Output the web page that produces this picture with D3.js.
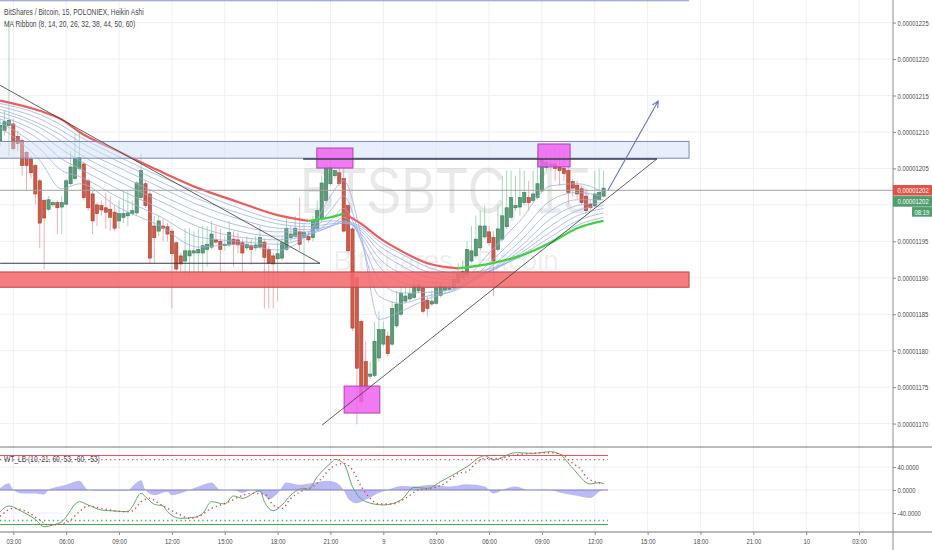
<!DOCTYPE html>
<html>
<head>
<meta charset="utf-8">
<title>BTSBTC 15 Heikin Ashi</title>
<style>
  body { margin: 0; background: #fff; }
  svg { display: block; font-family: "Liberation Sans", Arial, sans-serif; }
</style>
</head>
<body>
<svg id="chart" width="932" height="550"></svg>
<script src="https://d3js.org/d3.v7.min.js"></script>
<script>
// Heikin Ashi 15m bars from 02:15, prices in satoshi (1 sat = 0.00000001 BTC)
const haOpen = [1208.8,1210.2,1210.9,1211.1,1209.4,1208.8,1207.2,1206.3,1205.4,1203.3,
  1200.6,1199.4,1200.0,1200.3,1199.7,1200.1,1202.9,1203.6,1205.0,1205.6,
  1203.3,1201.5,1200.0,1199.9,1199.6,1199.4,1199.0,1197.8,1198.3,1198.5,
  1198.8,1198.9,1201.0,1202.9,1201.5,1197.1,1196.4,1197.1,1197.0,1196.4,
  1194.8,1193.0,1192.3,1193.0,1193.4,1193.4,1193.4,1193.9,1194.2,1195.2,
  1195.0,1194.4,1194.5,1195.3,1195.2,1194.8,1194.1,1194.4,1194.1,1194.2,
  1194.9,1193.9,1193.0,1192.6,1192.7,1193.9,1195.5,1195.7,1196.3,1195.5,
  1195.7,1195.5,1196.7,1198.1,1200.6,1202.9,1204.0,1204.4,1203.6,1199.9,
  1196.7,1190.0,1184.0,1178.5,1176.5,1176.6,1179.0,1180.9,1182.0,1180.9,
  1183.4,1185.0,1186.8,1187.1,1187.3,1188.2,1188.6,1186.9,1186.4,1186.5,
  1187.6,1188.3,1188.4,1188.6,1189.3,1190.0,1190.4,1192.3,1193.0,1194.1,
  1195.6,1196.3,1195.5,1193.9,1195.3,1197.0,1198.3,1199.6,1199.7,1200.3,
  1201.0,1200.6,1201.0,1201.9,1205.1,1205.4,1205.6,1205.2,1205.0,1204.7,
  1203.2,1202.7,1202.2,1201.2,1200.1,1199.9,1200.7,1201.2];
const haHigh = [1211.8,1212.9,1225.3,1211.8,1210.2,1209.1,1207.4,1206.7,1205.6,1203.6,
  1200.8,1201.2,1200.6,1200.6,1201.2,1203.6,1207.4,1209.8,1210.2,1205.9,
  1203.6,1201.9,1200.3,1200.6,1201.7,1201.2,1199.9,1200.6,1201.9,1201.9,
  1200.6,1203.3,1207.0,1203.3,1201.9,1198.5,1198.5,1198.1,1197.5,1196.7,
  1195.0,1193.4,1196.8,1196.8,1196.4,1196.7,1197.1,1197.1,1197.8,1197.1,
  1196.7,1195.7,1197.8,1196.4,1196.2,1195.3,1195.7,1195.3,1195.7,1197.1,
  1195.3,1194.4,1193.4,1195.0,1195.7,1198.5,1197.1,1198.5,1201.0,1197.5,
  1196.4,1198.5,1200.6,1204.0,1205.6,1206.1,1205.6,1205.2,1205.0,1200.1,
  1197.0,1190.2,1184.3,1181.3,1178.5,1184.0,1185.4,1184.0,1182.6,1186.8,
  1188.2,1188.9,1188.9,1188.9,1189.8,1189.5,1189.0,1187.5,1188.2,1189.5,
  1189.5,1189.3,1189.3,1190.9,1192.0,1192.3,1195.0,1197.1,1198.5,1199.2,
  1199.9,1197.1,1196.4,1199.9,1204.0,1204.7,1204.7,1204.0,1205.0,1204.7,
  1203.3,1204.7,1207.4,1206.7,1207.4,1207.4,1207.8,1207.8,1207.4,1205.4,
  1203.6,1203.3,1202.6,1201.9,1200.6,1204.7,1205.0,1204.7];
const haLow = [1208.1,1209.5,1206.7,1207.4,1207.4,1204.0,1201.9,1203.6,1200.1,1194.1,
  1191.2,1199.2,1199.7,1196.0,1196.0,1199.9,1202.6,1203.3,1204.7,1200.6,
  1199.2,1196.0,1197.1,1198.5,1196.7,1196.4,1196.4,1196.7,1197.5,1197.1,
  1198.5,1198.6,1200.6,1199.6,1191.9,1191.9,1195.7,1195.0,1195.0,1185.8,
  1190.9,1190.9,1190.3,1190.3,1190.6,1190.3,1190.8,1191.5,1193.9,1194.6,
  1190.8,1193.7,1194.2,1191.5,1193.4,1190.8,1193.7,1191.8,1193.7,1193.9,
  1185.8,1185.8,1185.8,1186.8,1192.3,1193.7,1195.0,1195.5,1193.7,1190.2,
  1194.8,1195.0,1196.4,1197.8,1200.3,1202.6,1203.6,1202.6,1196.2,1193.4,
  1182.7,1169.9,1172.4,1173.7,1176.1,1176.3,1178.5,1180.6,1179.2,1180.6,
  1183.1,1184.7,1186.5,1186.8,1187.1,1187.9,1185.1,1184.7,1186.1,1186.3,
  1187.3,1188.0,1188.2,1188.3,1189.0,1189.7,1190.1,1192.0,1192.6,1193.7,
  1195.3,1194.4,1187.5,1193.7,1195.0,1196.7,1198.1,1199.2,1198.5,1199.9,
  1199.2,1200.3,1200.7,1201.7,1204.7,1204.7,1203.3,1202.6,1203.3,1200.1,
  1201.2,1200.8,1200.0,1198.9,1199.2,1199.6,1200.6,1201.0];
const haClose = [1210.9,1211.4,1211.6,1207.7,1208.4,1205.4,1205.4,1204.4,1201.5,1197.5,
  1198.2,1200.7,1200.3,1199.6,1200.3,1203.3,1205.2,1206.3,1206.5,1201.0,
  1199.6,1197.8,1198.8,1199.3,1199.0,1198.3,1196.8,1198.8,1198.8,1198.9,
  1199.2,1203.0,1204.7,1199.9,1192.7,1195.5,1197.8,1196.8,1196.0,1193.3,
  1191.2,1191.9,1193.7,1193.7,1193.7,1193.9,1194.4,1194.6,1196.0,1194.9,
  1193.9,1194.6,1196.2,1194.6,1194.5,1193.4,1194.6,1193.9,1194.5,1195.5,
  1192.8,1192.0,1191.9,1193.3,1194.8,1196.8,1196.0,1196.8,1194.6,1196.2,
  1195.2,1197.9,1199.2,1203.0,1205.0,1205.1,1204.7,1202.9,1196.4,1193.7,
  1183.1,1177.6,1173.0,1174.8,1176.8,1181.3,1182.9,1182.9,1179.6,1185.8,
  1186.4,1187.9,1187.5,1187.8,1188.9,1189.0,1185.4,1185.8,1186.8,1188.6,
  1188.9,1188.7,1188.6,1189.8,1190.6,1190.9,1193.9,1193.7,1195.3,1197.1,
  1197.1,1194.8,1192.3,1196.7,1198.5,1199.6,1201.0,1199.9,1201.0,1201.7,
  1200.3,1201.5,1202.9,1206.3,1205.8,1205.6,1205.0,1204.7,1204.3,1201.7,
  1202.3,1201.5,1200.3,1199.2,1199.6,1201.5,1201.7,1202.3];
const lastPrice = 1202.0;

// MA Ribbon (8 .. 60), read at these bars
const ribbonBars = [0,9,14,18,27,36,45,54,63,70,75,78,82,86,91,97,104,111,118,125,131,137];
const ma60 = [1214.3,1212.9,1211.7,1210.0,1207.3,1204.7,1202.3,1200.4,1198.6,1197.8,1198.3,1198.8,1197.4,1195.5,1193.7,1192.0,1191.3,1191.9,1193.0,1194.8,1196.8,1197.8];
const ma50 = [1213.9,1212.4,1210.9,1209.4,1206.6,1204.0,1201.7,1199.6,1197.9,1197.4,1197.8,1197.7,1197.0,1195.0,1193.3,1191.5,1190.6,1191.2,1192.8,1195.0,1197.2,1198.3];
const ma44 = [1213.5,1211.8,1210.2,1208.7,1205.9,1203.3,1200.8,1198.9,1197.4,1197.0,1197.4,1197.5,1196.7,1194.4,1192.6,1190.8,1190.1,1190.9,1193.0,1195.6,1197.8,1198.9];
const ma38 = [1213.1,1211.1,1209.5,1207.8,1205.1,1202.5,1200.0,1198.1,1196.8,1196.6,1197.1,1197.5,1196.4,1193.7,1191.7,1190.1,1189.7,1190.8,1193.3,1196.3,1198.5,1199.5];
const ma32 = [1212.7,1210.6,1208.7,1207.0,1204.1,1201.5,1199.0,1197.2,1196.3,1196.3,1197.0,1197.8,1196.0,1192.7,1190.6,1189.4,1189.3,1190.8,1193.7,1197.1,1199.2,1199.9];
const ma26 = [1212.2,1209.8,1207.6,1206.1,1203.2,1200.6,1198.1,1196.4,1195.7,1196.0,1197.1,1198.3,1195.6,1191.6,1189.4,1188.7,1188.9,1190.9,1194.2,1198.1,1199.9,1200.3];
const ma20 = [1211.8,1208.9,1206.3,1205.0,1202.1,1199.6,1197.0,1195.6,1195.2,1195.9,1197.8,1199.5,1195.0,1189.8,1187.9,1188.0,1188.6,1191.3,1195.0,1199.2,1200.7,1200.7];
const ma14 = [1211.3,1207.7,1204.7,1203.9,1201.0,1198.5,1195.6,1195.0,1194.6,1195.9,1199.2,1201.2,1195.0,1187.5,1186.5,1187.5,1188.4,1192.0,1196.1,1200.6,1201.7,1201.1];
const ma8 = [1210.6,1206.1,1202.2,1202.9,1199.6,1197.2,1194.2,1194.6,1193.8,1196.1,1201.2,1203.3,1195.7,1184.3,1185.4,1187.1,1188.7,1193.4,1197.8,1202.6,1202.9,1201.7];

// WT_LB (10, 21, 60, 53, -60, -53)
const wt1Bars = [0,2,4,6,8,10,12,14,18,20,23,26,29,30,32,33,35,37,38,41,44,46,48,51,53,55,59,60,62,64,66,69,70,72,75,76,78,80,83,87,91,94,97,100,106,110,112,117,121,125,127,130,134,136,137];
const wt1 = [-37.7,-27.8,-33.6,-41.7,-51,-63.8,-60.9,-55,-20.3,-26,-34.8,-36.5,-37.7,-29,-5.8,-11.6,-24.9,-27.8,-37.7,-49.3,-47.5,-40.6,-20.3,-24.3,-10.4,-14.5,-1.2,-20.3,-36,-26,-8.7,2.9,1.2,23.2,46.4,53.3,46.4,5.8,-20.3,-26,-17.4,4.6,2.9,14.5,40.6,59.7,52.2,64.9,63.8,66.7,62.6,37.7,10.4,12.8,11];
const wt2Bars = [0,3,6,9,11,14,16,18,20,23,25,28,30,32,34,36,38,41,43,45,48,50,52,54,57,60,62,64,66,69,71,73,75,78,80,82,84,86,89,92,95,98,101,104,106,108,110,113,117,121,125,128,130,132,133,135,137];
const wt2 = [-46,-31.9,-37.7,-52.2,-60.9,-59.1,-52.2,-37.7,-27.8,-31.9,-34.8,-37.7,-36.5,-20.3,-14.5,-23.2,-31.9,-43.5,-49.3,-46.4,-31.9,-26.1,-20.3,-12.8,-5.8,-7,-26.1,-31.9,-14.5,0,5.8,20.3,37.7,46.4,34.8,5.8,-14.5,-24.3,-24.3,-14.5,0,2.9,11.6,29,31.9,46.4,55,55,60.9,63.8,64.9,59.1,46.4,34.8,23.2,14.5,11.6];
const histBars = [0,2,3,5,8,10,11,15,18,20,23,29,30,32,33,35,38,39,42,45,48,50,53,55,57,60,61,63,65,68,71,74,76,78,79,81,83,86,88,91,94,98,102,106,110,112,115,117,120,124,128,131,134,136,137];
const hist = [3,11.6,0,-6,-6,-8,0,9,16,0,-1,-1,6,17,0,-9,-3,-9,-3,6,13,0,0,-5,0,-9,-16,-6,13,9,12,16,14,0,-15,-23,-17,-5,0,7,6,9,6,10,6,-6,3,6,0,1,-6,-10,-14,-3,1];
const obLevels = [60, 53];
const osLevels = [-60, -53];

// axes (the 0.00001200 label sits under the last-price labels)
const priceTicks = [1170,1175,1180,1185,1190,1195,1200,1205,1210,1215,1220,1225];
const priceLabelTicks = [1170,1175,1180,1185,1190,1195,1205,1210,1215,1220,1225];
const wtTicks = [-40, 0, 40];
const timeTicks = [3,15,27,39,51,63,75,87,99,111,123,135,147,159,171,183,195];
const timeLabels = ["03:00","06:00","09:00","12:00","15:00","18:00","21:00","9","03:00","06:00","09:00","12:00","15:00","18:00","21:00","10","03:00"];

// drawings: [bar0, bar1, priceLow, priceHigh] and [bar0, price0, bar1, price1]
const zoneResist = [-5, 156.4, 1206.4, 1208.7];
const zoneSupport = [-5, 156.4, 1188.7, 1190.8];
const zoneTop = [-5, 156.4, 1228.0];
const boxes = [[71.9, 80.1, 1205.05, 1207.8], [78.1, 86.2, 1171.45, 1175.15], [122.1, 129.4, 1205.2, 1208.35]];
const trendLines = [[0, 1216.4, 72.6, 1192.0], [0, 1192.0, 72.6, 1192.0], [68.8, 1206.3, 149.1, 1206.3], [73.1, 1169.8, 149.1, 1206.3]];
const arrowLine = [138, 1202.0, 149.4, 1214.25];

const AXIS_X = 893, SX = 0.74;
const svg = d3.select("#chart");

const x = d3.scaleLinear().domain([0, 195]).range([0.1, 0.1 + 195 * 4.405]);
const y = d3.scaleLinear().domain([1170, 1225]).range([423.6, 22.6]);
const yi = d3.scaleLinear().domain([-40, 40]).range([513, 467]);

svg.append("rect").attr("width", 932).attr("height", 550).attr("fill", "#fff");

const defs = svg.append("defs");
defs.append("clipPath").attr("id", "clipMain").append("rect").attr("width", AXIS_X).attr("height", 446.5);
defs.append("clipPath").attr("id", "clipInd").append("rect").attr("y", 447.5).attr("width", AXIS_X).attr("height", 84);

// grid
const grid = svg.append("g").attr("stroke", "#eef0f4").attr("stroke-width", 1);
grid.selectAll("line.v").data(timeTicks).join("line")
  .attr("x1", d => x(d)).attr("x2", d => x(d)).attr("y1", 0).attr("y2", 532);
grid.selectAll("line.h").data(priceTicks).join("line")
  .attr("x1", 0).attr("x2", AXIS_X).attr("y1", d => y(d)).attr("y2", d => y(d));
grid.selectAll("line.hi").data(wtTicks).join("line")
  .attr("x1", 0).attr("x2", AXIS_X).attr("y1", d => yi(d)).attr("y2", d => yi(d));

const main = svg.append("g").attr("clip-path", "url(#clipMain)");

// watermark
main.append("text").attr("x", 446).attr("y", 213).attr("text-anchor", "middle")
  .attr("font-size", 64).attr("textLength", 292).attr("lengthAdjust", "spacingAndGlyphs")
  .attr("fill", "#000").attr("fill-opacity", 0.085).text("BTSBTC, 15");
main.append("text").attr("x", 446).attr("y", 270).attr("text-anchor", "middle")
  .attr("font-size", 28).attr("textLength", 225).attr("lengthAdjust", "spacingAndGlyphs")
  .attr("fill", "#000").attr("fill-opacity", 0.085).text("BitShares / Bitcoin");

// candles
const bars = d3.range(haOpen.length);
const isUp = i => haClose[i] >= haOpen[i];
const cg = main.append("g");
cg.selectAll("line").data(bars).join("line")
  .attr("x1", i => x(i)).attr("x2", i => x(i))
  .attr("y1", i => y(haHigh[i])).attr("y2", i => y(haLow[i]))
  .attr("stroke", i => isUp(i) ? "#9fd2b2" : "#f1a3aa").attr("stroke-width", 0.9);
cg.selectAll("rect").data(bars).join("rect")
  .attr("x", i => x(i) - 1.6).attr("width", 3.2)
  .attr("y", i => y(Math.max(haOpen[i], haClose[i])))
  .attr("height", i => Math.max(0.8, Math.abs(y(haOpen[i]) - y(haClose[i]))))
  .attr("fill", i => isUp(i) ? "#5b9d78" : "#cf5a48")
  .attr("stroke", i => isUp(i) ? "#3e7a58" : "#a3402f").attr("stroke-width", 0.6);

// MA ribbon
const ribbonLine = d3.line().x((d, k) => x(ribbonBars[k])).y(d => y(d)).curve(d3.curveMonotoneX);
main.append("g").selectAll("path").data([ma50, ma44, ma38, ma32, ma26, ma20, ma14, ma8]).join("path")
  .attr("d", ribbonLine).attr("fill", "none").attr("stroke", "#9aaee9")
  .attr("stroke-width", 0.9).attr("stroke-opacity", 0.85);

// slow MA coloured by direction
const slowPts = ribbonBars.map((b, k) => [b, ma60[k]]);
const slowLine = d3.line().x(d => x(d[0])).y(d => y(d[1])).curve(d3.curveMonotoneX);
let runStart = 0;
for (let k = 1; k < slowPts.length; k++) {
  const rising = ma60[k] >= ma60[k - 1];
  const nextRising = k + 1 < slowPts.length ? ma60[k + 1] >= ma60[k] : null;
  if (nextRising !== rising) {
    main.append("path").attr("d", slowLine(slowPts.slice(runStart, k + 1)))
      .attr("fill", "none").attr("stroke", rising ? "#3fd43f" : "#ef5b5b").attr("stroke-width", 2.2);
    runStart = k;
  }
}

// last price line
main.append("line").attr("x1", 0).attr("x2", AXIS_X).attr("y1", y(lastPrice)).attr("y2", y(lastPrice))
  .attr("stroke", "#a3a3a3").attr("stroke-width", 1);

// drawings
main.append("line").attr("x1", x(zoneTop[0])).attr("x2", x(zoneTop[1]))
  .attr("y1", y(zoneTop[2])).attr("y2", y(zoneTop[2])).attr("stroke", "#8a93c9").attr("stroke-width", 1.2);
function zone(z, fill, op, stroke) {
  main.append("rect").attr("x", x(z[0])).attr("width", x(z[1]) - x(z[0]))
    .attr("y", y(z[3])).attr("height", y(z[2]) - y(z[3]))
    .attr("fill", fill).attr("fill-opacity", op).attr("stroke", stroke).attr("stroke-width", 1);
}
zone(zoneResist, "#c9def5", 0.45, "#7c86c6");
zone(zoneSupport, "#f46a6d", 0.88, "#c0454b");
boxes.forEach(b => zone(b, "#ee62f0", 0.85, "#b23fb6"));

main.append("g").selectAll("line").data(trendLines).join("line")
  .attr("x1", d => x(d[0])).attr("y1", d => y(d[1])).attr("x2", d => x(d[2])).attr("y2", d => y(d[3]))
  .attr("stroke", (d, k) => k === 2 ? "#3b3d4f" : "#3a3a3a")
  .attr("stroke-width", (d, k) => k === 2 ? 1.4 : (k === 1 ? 1.1 : 0.8));

const ax0 = x(arrowLine[0]), ay0 = y(arrowLine[1]), ax1 = x(arrowLine[2]), ay1 = y(arrowLine[3]);
const ang = Math.atan2(ay1 - ay0, ax1 - ax0);
const head = [ang + Math.PI - 0.45, ang + Math.PI + 0.45].map(a => [ax1 + 7 * Math.cos(a), ay1 + 7 * Math.sin(a)]);
main.append("path")
  .attr("d", `M${ax0},${ay0}L${ax1},${ay1}M${head[0][0]},${head[0][1]}L${ax1},${ay1}L${head[1][0]},${head[1][1]}`)
  .attr("fill", "none").attr("stroke", "#6a72c0").attr("stroke-width", 1.1);

// legends
function squeezed(parent, tx, ty, str, size, fill) {
  return parent.append("text").attr("transform", `translate(${tx},${ty}) scale(${SX},1)`)
    .attr("font-size", size).attr("fill", fill || "#4a4a4a").text(str);
}
squeezed(svg, 4, 14.5, "BitShares / Bitcoin, 15, POLONIEX, Heikin Ashi", 9);
squeezed(svg, 4, 26.5, "MA Ribbon (8, 14, 20, 26, 32, 38, 44, 50, 60)", 9);

// WT_LB pane
const ind = svg.append("g").attr("clip-path", "url(#clipInd)");
const endX = x(138);
ind.append("path")
  .attr("d", d3.area().x((d, k) => x(histBars[k])).y0(yi(0)).y1(d => yi(d)).curve(d3.curveMonotoneX)(hist))
  .attr("fill", "#9696ee").attr("fill-opacity", 0.65);
ind.append("line").attr("x1", 0).attr("x2", endX).attr("y1", yi(0)).attr("y2", yi(0))
  .attr("stroke", "#8080cc").attr("stroke-width", 1.2);
obLevels.concat(osLevels).forEach(v => {
  const solid = Math.abs(v) === 60;
  ind.append("line").attr("x1", 0).attr("x2", endX).attr("y1", yi(v)).attr("y2", yi(v))
    .attr("stroke", v > 0 ? "#ef4f55" : "#3fae4f").attr("stroke-width", solid ? 1 : 1.3)
    .attr("stroke-dasharray", solid ? null : "1.3 3.1");
});
ind.append("path")
  .attr("d", d3.line().x((d, k) => x(wt1Bars[k])).y(d => yi(d)).curve(d3.curveMonotoneX)(wt1))
  .attr("fill", "none").attr("stroke", "#5daa6c").attr("stroke-width", 1);
ind.append("path")
  .attr("d", d3.line().x((d, k) => x(wt2Bars[k])).y(d => yi(d)).curve(d3.curveMonotoneX)(wt2))
  .attr("fill", "none").attr("stroke", "#e8434b").attr("stroke-width", 1.4).attr("stroke-dasharray", "1.3 3.1");
squeezed(svg, 4, 461.5, "WT_LB (10, 21, 60, 53, -60, -53)", 9);

// frame
svg.append("line").attr("x1", 0).attr("x2", 932).attr("y1", 447).attr("y2", 447).attr("stroke", "#767676").attr("stroke-width", 1.2);
svg.append("line").attr("x1", 0).attr("x2", 932).attr("y1", 532).attr("y2", 532).attr("stroke", "#767676").attr("stroke-width", 1.2);
svg.append("line").attr("x1", AXIS_X).attr("x2", AXIS_X).attr("y1", 0).attr("y2", 550).attr("stroke", "#8c8c8c").attr("stroke-width", 1);

function styleAxis(g, dx) {
  g.attr("font-family", null).attr("font-size", null);
  g.select(".domain").remove();
  g.selectAll("line").attr("stroke", "#8c8c8c");
  g.selectAll("text").attr("font-size", 8).attr("fill", "#4a4a4a").attr("transform", `scale(${SX},1)`);
  if (dx !== null) g.selectAll("text").attr("x", dx / SX);
}
const pa = svg.append("g").attr("transform", `translate(${AXIS_X},0)`)
  .call(d3.axisRight(y).tickValues(priceLabelTicks).tickSize(3).tickFormat(d => (d / 1e8).toFixed(8)));
styleAxis(pa, 4.5);
const wa = svg.append("g").attr("transform", `translate(${AXIS_X},0)`)
  .call(d3.axisRight(yi).tickValues(wtTicks).tickSize(3).tickFormat(d => d.toFixed(4)));
styleAxis(wa, 4.5);
const ta = svg.append("g").attr("transform", "translate(0,532)")
  .call(d3.axisBottom(x).tickValues(timeTicks).tickSize(3).tickPadding(3.5).tickFormat((d, k) => timeLabels[k]));
styleAxis(ta, null);

// price labels on the axis
const ly = y(lastPrice);
svg.append("rect").attr("x", AXIS_X).attr("y", ly - 5.3).attr("width", 932 - AXIS_X).attr("height", 10.6).attr("fill", "#dd5449");
svg.append("rect").attr("x", AXIS_X).attr("y", ly + 5.8).attr("width", 932 - AXIS_X).attr("height", 10.6).attr("fill", "#4f9e6e");
svg.append("rect").attr("x", 912).attr("y", ly + 16.8).attr("width", 20).attr("height", 9.6).attr("fill", "#4f9e6e");
const labelText = (lastPrice / 1e8).toFixed(8);
squeezed(svg, 897.5, ly + 2.9, labelText, 8, "#fff");
squeezed(svg, 897.5, ly + 14, labelText, 8, "#fff");
squeezed(svg, 914.5, ly + 24.5, "08:19", 8, "#fff");
</script>
</body>
</html>
